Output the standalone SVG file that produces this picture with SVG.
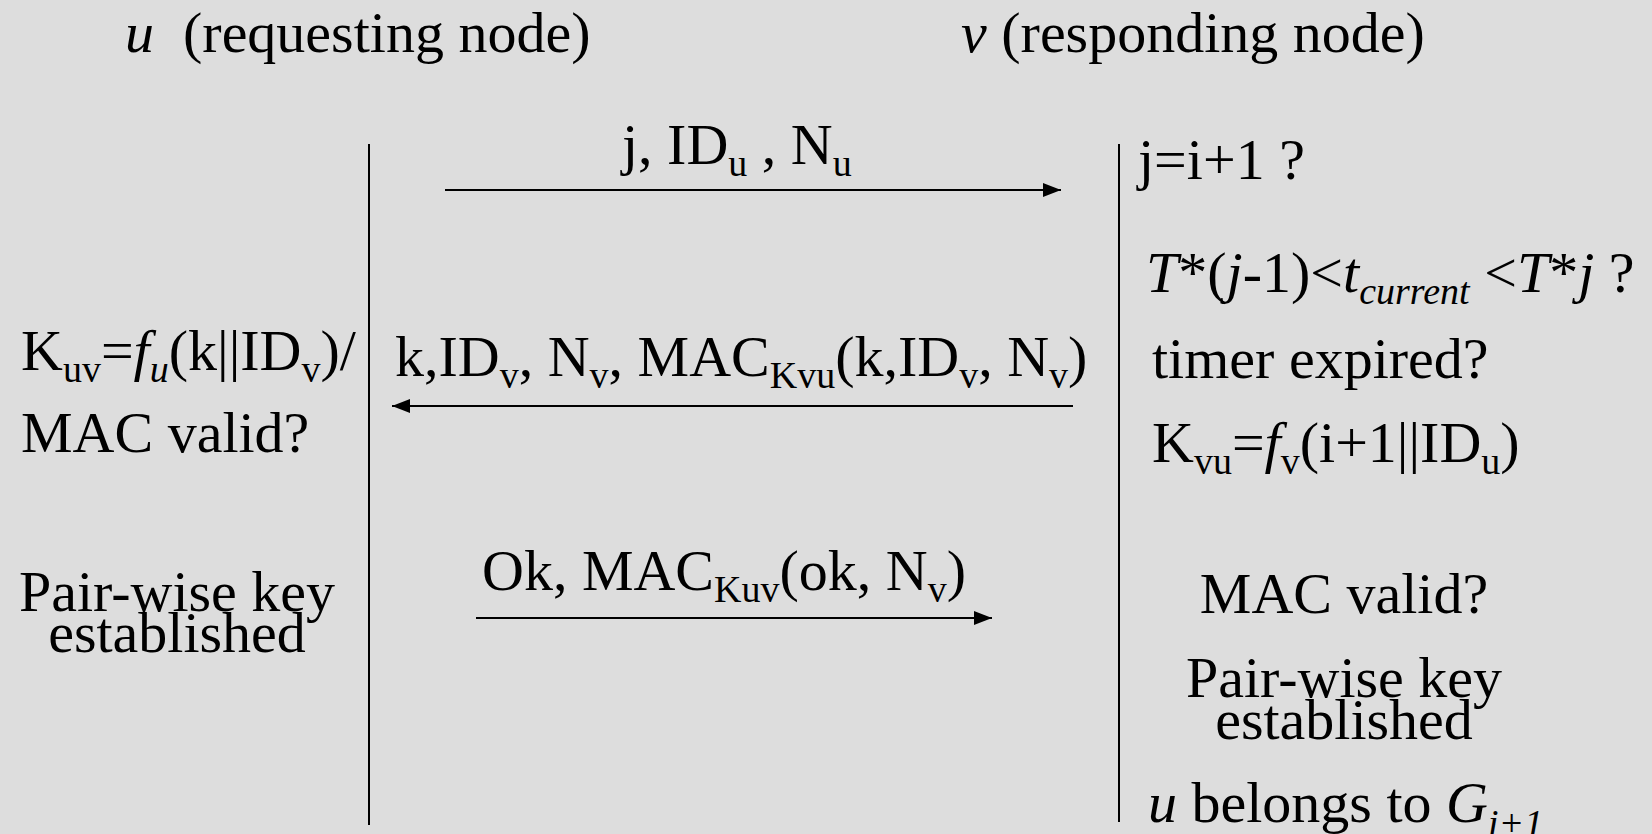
<svg xmlns="http://www.w3.org/2000/svg" width="1652" height="834" viewBox="0 0 1652 834">
<style>
text{font-family:"Liberation Serif","Times New Roman",serif;font-size:58px;fill:#000}
.it{font-style:italic}
.sub{font-size:38px}
.life{stroke:#000;stroke-width:2}
.msg{stroke:#000;stroke-width:2.2;fill:none}
</style>
<defs>
<marker id="ah" markerUnits="userSpaceOnUse" markerWidth="20" markerHeight="16" refX="18" refY="8" orient="auto">
<path d="M0,1 L18,8 L0,15 Z" fill="#000"/>
</marker>
</defs>
<rect width="1652" height="834" fill="#dddddd"/>
<g id="header-u"><text x="125" y="52" xml:space="preserve"><tspan class="it">u</tspan>  (requesting node)</text></g>
<g id="header-v"><text x="961" y="52"><tspan class="it">v</tspan> (responding node)</text></g>
<g id="lifeline-u"><line class="life" x1="369" y1="144" x2="369" y2="825"/></g>
<g id="lifeline-v"><line class="life" x1="1119" y1="144" x2="1119" y2="822"/></g>
<g id="u-key"><text x="21" y="370">K<tspan class="sub" dy="12">uv</tspan><tspan dy="-12">=</tspan><tspan class="it">f</tspan><tspan class="sub it" dy="12">u</tspan><tspan dy="-12">(k||ID</tspan><tspan class="sub" dy="12">v</tspan><tspan dy="-12">)/</tspan></text>
<text x="21" y="452">MAC valid?</text></g>
<g id="u-established"><text x="177" y="611" text-anchor="middle">Pair-wise key</text><text x="177" y="652" text-anchor="middle">established</text></g>
<g id="v-checks">
<text x="1138" y="179">j=i+1 ?</text>
<text x="1146" y="292"><tspan class="it">T</tspan>*(<tspan class="it">j</tspan>-1)&lt;<tspan class="it">t</tspan><tspan class="sub it" dy="12">current</tspan><tspan dy="-12"> &lt;</tspan><tspan class="it">T</tspan>*<tspan class="it">j</tspan> ?</text>
<text x="1152" y="378">timer expired?</text>
<text x="1152" y="462">K<tspan class="sub" dy="12">vu</tspan><tspan dy="-12">=</tspan><tspan class="it">f</tspan><tspan class="sub" dy="12">v</tspan><tspan dy="-12">(i+1||ID</tspan><tspan class="sub" dy="12">u</tspan><tspan dy="-12">)</tspan></text>
</g>
<g id="v-established">
<text x="1344" y="613" text-anchor="middle">MAC valid?</text>
<text x="1344" y="697" text-anchor="middle">Pair-wise key</text>
<text x="1344" y="739" text-anchor="middle">established</text>
<text x="1148" y="822"><tspan class="it">u</tspan> belongs to <tspan class="it">G</tspan><tspan class="sub it" dy="14">i+1</tspan></text>
</g>
<g id="connectors">
<line class="msg" x1="445" y1="190" x2="1061" y2="190" marker-end="url(#ah)"/>
<text x="622" y="164">j, ID<tspan class="sub" dy="12">u</tspan><tspan dy="-12"> , N</tspan><tspan class="sub" dy="12">u</tspan></text>
<line class="msg" x1="1073" y1="406" x2="392" y2="406" marker-end="url(#ah)"/>
<text x="395" y="376">k,ID<tspan class="sub" dy="12">v</tspan><tspan dy="-12">, N</tspan><tspan class="sub" dy="12">v</tspan><tspan dy="-12">, MAC</tspan><tspan class="sub" dy="12">Kvu</tspan><tspan dy="-12">(k,ID</tspan><tspan class="sub" dy="12">v</tspan><tspan dy="-12">, N</tspan><tspan class="sub" dy="12">v</tspan><tspan dy="-12">)</tspan></text>
<line class="msg" x1="476" y1="618" x2="992" y2="618" marker-end="url(#ah)"/>
<text x="482" y="590">Ok, MAC<tspan class="sub" dy="12">Kuv</tspan><tspan dy="-12">(ok, N</tspan><tspan class="sub" dy="12">v</tspan><tspan dy="-12">)</tspan></text>
</g>
</svg>
